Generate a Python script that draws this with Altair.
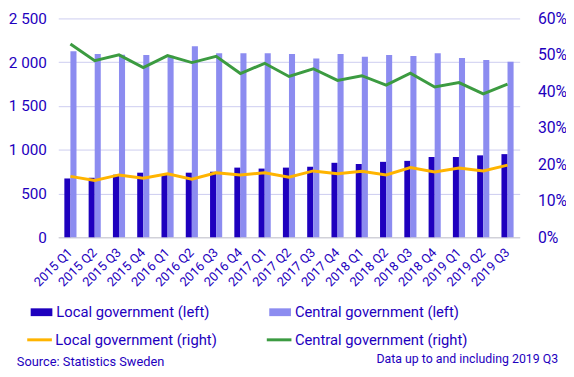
import altair as alt
import pandas as pd

quarters = ["2015 Q1", "2015 Q2", "2015 Q3", "2015 Q4", "2016 Q1", "2016 Q2", "2016 Q3", "2016 Q4",
            "2017 Q1", "2017 Q2", "2017 Q3", "2017 Q4", "2018 Q1", "2018 Q2", "2018 Q3", "2018 Q4",
            "2019 Q1", "2019 Q2", "2019 Q3"]
local_left = [672, 680, 715, 738, 720, 738, 749, 796, 785, 796, 807, 851, 837, 862, 873, 917, 917, 936, 950]
central_left = [2125, 2093, 2085, 2081, 2075, 2181, 2103, 2103, 2103, 2093, 2041, 2093, 2063, 2081, 2070, 2103, 2048, 2026, 2004]
local_right = [16.7, 15.6, 17.1, 16.2, 17.4, 15.9, 17.7, 17.1, 17.7, 16.5, 18.2, 17.4, 18.1, 17.1, 19.1, 17.9, 19.0, 18.2, 19.8]
central_right = [53.0, 48.4, 50.0, 46.5, 49.8, 47.9, 49.6, 44.9, 47.7, 44.1, 46.2, 43.0, 44.3, 41.7, 45.0, 41.2, 42.4, 39.3, 42.0]

bar_names = ["Local government (left)", "Central government (left)"]
line_names = ["Local government (right)", "Central government (right)"]

TXT = "#1e00be"
FONT = "Roboto"

bars_df = pd.DataFrame({
    "quarter": quarters * 2,
    "series": [bar_names[0]] * len(quarters) + [bar_names[1]] * len(quarters),
    "value": local_left + central_left,
})
lines_df = pd.DataFrame({
    "quarter": quarters * 2,
    "series": [line_names[0]] * len(quarters) + [line_names[1]] * len(quarters),
    "value": local_right + central_right,
})

xscale = alt.Scale(domain=quarters, paddingInner=0.5, paddingOuter=0.25)
xaxis = alt.Axis(title=None, labelAngle=-45, labelAlign="right", labelBaseline="middle",
                 labelFontSize=13, labelColor=TXT, labelFont=FONT, labelPadding=13,
                 ticks=False, domainColor="#cccccc", grid=False)

bars = alt.Chart(bars_df).mark_bar().encode(
    x=alt.X("quarter:N", scale=xscale, axis=xaxis, sort=quarters),
    xOffset=alt.XOffset("series:N", sort=bar_names, scale=alt.Scale(paddingInner=0, paddingOuter=0)),
    y=alt.Y("value:Q", scale=alt.Scale(domain=[0, 2500], nice=False),
            axis=alt.Axis(title=None, values=[0, 500, 1000, 1500, 2000, 2500],
                          labelExpr="replace(format(datum.value, ','), ',', ' ')",
                          labelFontSize=15.5, labelColor=TXT, labelFont=FONT, labelPadding=12,
                          ticks=False, domain=False, grid=True, gridColor="#ccccf0")),
    color=alt.Color("series:N", sort=bar_names,
                    scale=alt.Scale(domain=bar_names, range=["#1e00be", "#8c8cf0"]),
                    legend=alt.Legend(title=None, orient="none", legendX=-28, legendY=287,
                                      direction="horizontal", columns=2, columnPadding=60,
                                      symbolType="M-1,-0.36H1V0.36H-1Z", symbolSize=484,
                                      symbolStrokeWidth=0, labelFontSize=15, labelColor=TXT,
                                      labelFont=FONT, labelLimit=400, labelOffset=4)),
)

lines = alt.Chart(lines_df).mark_line(strokeWidth=3).encode(
    x=alt.X("quarter:N", scale=xscale, sort=quarters),
    y=alt.Y("value:Q", scale=alt.Scale(domain=[0, 60], nice=False),
            axis=alt.Axis(title=None, orient="right", values=[0, 10, 20, 30, 40, 50, 60],
                          labelExpr="datum.value + '%'",
                          labelFontSize=16, labelColor=TXT, labelFont=FONT, labelPadding=18,
                          ticks=False, domain=False, grid=False)),
    stroke=alt.Stroke("series:N", sort=line_names,
                      scale=alt.Scale(domain=line_names, range=["#ffb400", "#3c9b41"]),
                      legend=alt.Legend(title=None, orient="none", legendX=-33, legendY=312,
                                        direction="horizontal", columns=2, columnPadding=43,
                                        symbolType="stroke", symbolSize=625, symbolStrokeWidth=3,
                                        labelFontSize=15, labelColor=TXT, labelFont=FONT,
                                        labelLimit=400, labelOffset=2)),
)

notes_df = pd.DataFrame({"t": ["Source: Statistics Sweden"]})
source = alt.Chart(notes_df).mark_text(align="left", baseline="middle", font=FONT, fontSize=13,
                                       color=TXT).encode(
    text="t:N", x=alt.value(-42), y=alt.value(349))
notes2_df = pd.DataFrame({"t": ["Data up to and including 2019 Q3"]})
note2 = alt.Chart(notes2_df).mark_text(align="right", baseline="middle", font=FONT, fontSize=12.5,
                                       color=TXT).encode(
    text="t:N", x=alt.value(507), y=alt.value(345))

chart = alt.layer(bars, lines, source, note2).resolve_scale(
    y="independent", color="independent", stroke="independent"
).properties(
    width=468, height=222,
    autosize=alt.AutoSizeParams(type="none"),
    padding={"left": 51, "top": 8, "right": 47, "bottom": 131},
).configure_view(stroke=None)

chart.save("out.html", embed_options={"renderer": "svg", "actions": False})
